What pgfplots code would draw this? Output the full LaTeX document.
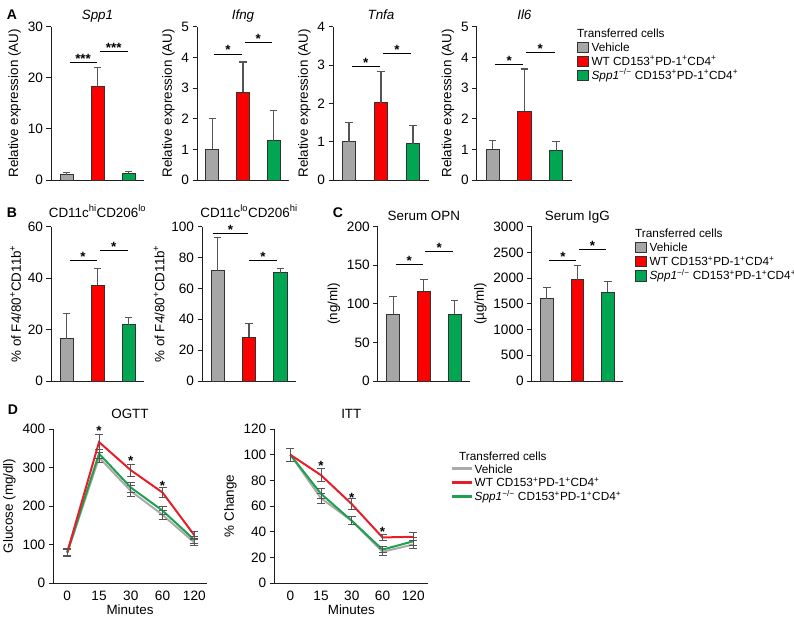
\documentclass[border=0pt]{standalone}
\usepackage{fontspec}
\setmainfont{Liberation Sans}
\usepackage{pgfplots}
\pgfplotsset{compat=1.18}

\definecolor{cGray}{RGB}{166,166,166}
\definecolor{cRed}{RGB}{250,0,0}
\definecolor{cGreen}{RGB}{0,166,81}
\definecolor{lGray}{RGB}{170,170,170}
\definecolor{lRed}{RGB}{230,30,40}
\definecolor{lGreen}{RGB}{30,160,80}
\definecolor{errCol}{RGB}{85,85,85}
\definecolor{edgeCol}{RGB}{50,50,50}
\definecolor{axisCol}{RGB}{30,30,30}

\newcommand{\lbl}{\fontsize{13.4}{15}\selectfont}
\newcommand{\tck}{\fontsize{13.6}{15}\selectfont}
\newcommand{\leg}{\fontsize{11.8}{14}\selectfont}
\newcommand{\pos}{\textsuperscript{+}}
\newcommand{\ko}{\textsuperscript{−/−}}

% significance bar: x1, x2, y, xmid, text
\newcommand{\sig}[5]{%
  \draw[line width=0.9pt, black] (axis cs:#1,#3) -- (axis cs:#2,#3);
  \node[anchor=base, inner sep=0pt, font=\lbl\bfseries, yshift=-1pt] at (axis cs:#4,#3) {#5};}
\newcommand{\sigstar}[2]{%
  \node[anchor=base, inner sep=0pt, font=\lbl\bfseries] at (axis cs:#1,#2) {*};}

\pgfplotsset{
  /pgf/number format/assume math mode=true,
  /pgf/number format/1000 sep={},
  base/.style={scale only axis, clip=false,
    axis x line*=bottom, axis y line*=left,
    axis line style={-, line width=0.9pt, color=axisCol},
    tick align=outside, major tick length=4.5pt,
    ytick style={line width=0.9pt, color=axisCol},
    xtick style={draw=none},
    tick label style={font=\tck},
    label style={font=\lbl},
    xlabel style={yshift=2.5pt},
    title style={font=\lbl, at={(0.5,1)}, anchor=base, yshift=3.5pt},
    ymin=0},
  barax/.style={base, xmin=0.5, xmax=3.5, xtick=\empty},
  rowA/.style={barax, height=153.3pt, title style={yshift=-2.5pt}},
  bar/.style={ybar, bar width=0.42, bar shift=0pt, draw=edgeCol, line width=0.8pt, fill=#1,
    error bars/y dir=plus, error bars/y explicit,
    error bars/error bar style={errCol, line width=1.1pt},
    error bars/error mark options={rotate=90, errCol, line width=1.1pt, mark size=3.8pt}},
  ln/.style={color=#1, line width=2pt, no markers,
    error bars/y dir=both, error bars/y explicit,
    error bars/error bar style={errCol, line width=0.9pt},
    error bars/error mark options={rotate=90, errCol, line width=0.9pt, mark size=4pt}},
  legax/.style={hide axis, scale only axis, width=10pt, height=10pt,
    xmin=0, xmax=1, ymin=0, ymax=1, anchor=north west,
    legend cell align=left,
    legend style={at={(0,1)}, anchor=north west, draw=none, fill=none,
      inner sep=0pt, row sep=1.7pt, font=\leg,
      nodes={text height=9pt, text depth=3pt, inner sep=0pt}}},
  boxleg/.style={legend image code/.code={%
    \draw[##1, draw=edgeCol, line width=0.8pt] (0pt,-4.5pt) rectangle (11pt,6pt);
    \path[draw=none, fill=none] (0pt,0pt) rectangle (14pt,0.1pt);}},
  lineleg/.style={legend image code/.code={%
    \draw[##1, line width=3pt] (0pt,1.3pt) -- (20pt,1.3pt);
    \path[draw=none, fill=none] (0pt,0pt) rectangle (23pt,0.1pt);}},
}

\begin{document}
\begin{tikzpicture}[x=1pt, y=1pt]
\useasboundingbox (0,0) rectangle (794,623);

% ---------------- A ----------------
\node[font=\fontsize{14}{16}\selectfont\bfseries] at (12,608) {A};

\begin{axis}[rowA, at={(51pt,443pt)}, width=93pt,
  ymax=30, ytick={0,10,20,30}, ylabel={Relative expression (AU)}, title={\itshape Spp1}]
\addplot[bar=cGray] coordinates {(1,1.0) +- (0,0.55)};
\addplot[bar=cRed] coordinates {(2,18.4) +- (0,3.6)};
\addplot[bar=cGreen] coordinates {(3,1.3) +- (0,0.4)};
\sig{1.1}{1.97}{23.0}{1.535}{***}
\sig{2.08}{2.97}{25.1}{2.525}{***}
\end{axis}

\begin{axis}[rowA, at={(197pt,443pt)}, width=92pt,
  ymax=5, ytick={0,...,5}, ylabel={Relative expression (AU)}, title={\itshape Ifng}]
\addplot[bar=cGray] coordinates {(1,1.0) +- (0,1.0)};
\addplot[bar=cRed] coordinates {(2,2.87) +- (0,0.98)};
\addplot[bar=cGreen] coordinates {(3,1.28) +- (0,1.0)};
\sig{1.05}{1.97}{4.11}{1.51}{*}
\sig{2.05}{2.95}{4.48}{2.5}{*}
\end{axis}

\begin{axis}[rowA, at={(333pt,443pt)}, width=96pt,
  ymax=4, ytick={0,...,4}, ylabel={Relative expression (AU)}, title={\itshape Tnfa}]
\addplot[bar=cGray] coordinates {(1,1.0) +- (0,0.5)};
\addplot[bar=cRed] coordinates {(2,2.02) +- (0,0.82)};
\addplot[bar=cGreen] coordinates {(3,0.95) +- (0,0.48)};
\sig{1.08}{1.97}{2.97}{1.525}{*}
\sig{2.05}{2.95}{3.31}{2.5}{*}
\end{axis}

\begin{axis}[rowA, at={(476.7pt,443pt)}, width=95.3pt,
  ymax=5, ytick={0,...,5}, ylabel={Relative expression (AU)}, title={\itshape Il6}]
\addplot[bar=cGray] coordinates {(1,1.0) +- (0,0.3)};
\addplot[bar=cRed] coordinates {(2,2.25) +- (0,1.37)};
\addplot[bar=cGreen] coordinates {(3,0.95) +- (0,0.32)};
\sig{1.08}{1.97}{3.78}{1.525}{*}
\sig{2.05}{2.95}{4.15}{2.5}{*}
\end{axis}

\node[font=\leg, anchor=west, inner sep=0pt] at (577,590) {Transferred cells};
\begin{axis}[legax, boxleg, at={(577pt,581.5pt)}]
\addlegendimage{fill=cGray}\addlegendentry{Vehicle}
\addlegendimage{fill=cRed}\addlegendentry{WT CD153\pos PD-1\pos CD4\pos}
\addlegendimage{fill=cGreen}\addlegendentry{\textit{Spp1}\ko\ CD153\pos PD-1\pos CD4\pos}
\end{axis}

% ---------------- B ----------------
\node[font=\fontsize{14}{16}\selectfont\bfseries] at (12,410) {B};

\begin{axis}[barax, at={(51pt,242pt)}, width=93pt, height=154.3pt,
  ymax=60, ytick={0,20,40,60}, ylabel={\% of F4/80\pos CD11b\pos},
  title={CD11c\textsuperscript{hi}CD206\textsuperscript{lo}}]
\addplot[bar=cGray] coordinates {(1,16.5) +- (0,9.8)};
\addplot[bar=cRed] coordinates {(2,37.3) +- (0,6.5)};
\addplot[bar=cGreen] coordinates {(3,21.9) +- (0,2.9)};
\sig{1.1}{1.97}{47.0}{1.535}{*}
\sig{2.08}{2.97}{50.9}{2.525}{*}
\end{axis}

\begin{axis}[barax, at={(202pt,242pt)}, width=94pt, height=154.3pt,
  ymax=100, ytick={0,20,...,100}, ylabel={\% of F4/80\pos CD11b\pos},
  title={CD11c\textsuperscript{lo}CD206\textsuperscript{hi}}]
\addplot[bar=cGray] coordinates {(1,71.5) +- (0,21.4)};
\addplot[bar=cRed] coordinates {(2,28.5) +- (0,8.6)};
\addplot[bar=cGreen] coordinates {(3,70.2) +- (0,2.6)};
\sig{0.85}{1.97}{95.5}{1.41}{*}
\sig{2.0}{2.9}{77.9}{2.45}{*}
\end{axis}

% ---------------- C ----------------
\node[font=\fontsize{14}{16}\selectfont\bfseries] at (338,410) {C};

\begin{axis}[barax, at={(377.7pt,242pt)}, width=92.3pt, height=154.3pt,
  ymax=200, ytick={0,50,...,200}, ylabel={(ng/ml)}, title={Serum OPN},
  title style={yshift=-3pt}]
\addplot[bar=cGray] coordinates {(1,86.8) +- (0,23)};
\addplot[bar=cRed] coordinates {(2,116.6) +- (0,15.5)};
\addplot[bar=cGreen] coordinates {(3,86.8) +- (0,17)};
\sig{1.08}{1.97}{151}{1.525}{*}
\sig{2.05}{2.95}{167.6}{2.5}{*}
\end{axis}

\begin{axis}[barax, at={(531.7pt,242pt)}, width=91.3pt, height=154.3pt,
  ymax=3000, ytick={0,500,...,3000}, ylabel={(µg/ml)}, title={Serum IgG},
  title style={yshift=-3pt}]
\addplot[bar=cGray] coordinates {(1,1598) +- (0,212)};
\addplot[bar=cRed] coordinates {(2,1970) +- (0,270)};
\addplot[bar=cGreen] coordinates {(3,1725) +- (0,213)};
\sig{1.08}{1.97}{2337}{1.525}{*}
\sig{2.05}{2.95}{2563}{2.5}{*}
\end{axis}

\node[font=\leg, anchor=west, inner sep=0pt] at (635,390) {Transferred cells};
\begin{axis}[legax, boxleg, at={(635pt,381.3pt)}]
\addlegendimage{fill=cGray}\addlegendentry{Vehicle}
\addlegendimage{fill=cRed}\addlegendentry{WT CD153\pos PD-1\pos CD4\pos}
\addlegendimage{fill=cGreen}\addlegendentry{\textit{Spp1}\ko\ CD153\pos PD-1\pos CD4\pos}
\end{axis}

% ---------------- D ----------------
\node[font=\fontsize{14}{16}\selectfont\bfseries] at (13,213) {D};

\begin{axis}[base, at={(53.3pt,40pt)}, width=153.4pt, height=154pt,
  xmin=-0.44, xmax=4.39, ymax=400, ytick={0,100,...,400},
  xtick={0,...,4}, xticklabels={0,15,30,60,120},
  xlabel={Minutes}, ylabel={Glucose (mg/dl)}, title={OGTT},
  title style={yshift=1pt}]
\addplot[ln=lGray] coordinates {(0,78) +- (0,8) (1,326) +- (0,12) (2,239) +- (0,14) (3,177) +- (0,12) (4,105) +- (0,8)};
\addplot[ln=lGreen] coordinates {(0,79) +- (0,8) (1,336) +- (0,12) (2,248) +- (0,13) (3,188) +- (0,11) (4,112) +- (0,8)};
\addplot[ln=lRed] coordinates {(0,80) +- (0,10) (1,366) +- (0,19) (2,293) +- (0,16) (3,235) +- (0,12) (4,124) +- (0,9)};
\sigstar{1}{384}
\sigstar{2}{304}
\sigstar{3}{241}
\end{axis}

\begin{axis}[base, at={(274.3pt,40pt)}, width=154pt, height=154pt,
  xmin=-0.52, xmax=4.49, ymax=120, ytick={0,20,...,120},
  xtick={0,...,4}, xticklabels={0,15,30,60,120},
  xlabel={Minutes}, ylabel={\% Change}, title={ITT},
  title style={yshift=1pt}]
\addplot[ln=lGray] coordinates {(0,100) +- (0,5) (1,66) +- (0,4) (2,48.5) +- (0,3) (3,24.3) +- (0,2.5) (4,30) +- (0,3)};
\addplot[ln=lGreen] coordinates {(0,100) +- (0,5) (1,69.5) +- (0,4) (2,48.5) +- (0,3) (3,26) +- (0,2.5) (4,32.5) +- (0,3)};
\addplot[ln=lRed] coordinates {(0,100) +- (0,5) (1,84) +- (0,5) (2,61.5) +- (0,4) (3,35.5) +- (0,2.5) (4,36) +- (0,3)};
\sigstar{1}{88}
\sigstar{2}{63}
\sigstar{3}{36.5}
\end{axis}

\node[font=\leg, anchor=west, inner sep=0pt] at (459,167) {Transferred cells};
\begin{axis}[legax, lineleg, at={(450pt,159pt)}]
\addlegendimage{draw=lGray}\addlegendentry{Vehicle}
\addlegendimage{draw=lRed}\addlegendentry{WT CD153\pos PD-1\pos CD4\pos}
\addlegendimage{draw=lGreen}\addlegendentry{\textit{Spp1}\ko\ CD153\pos PD-1\pos CD4\pos}
\end{axis}
\end{tikzpicture}
\end{document}
